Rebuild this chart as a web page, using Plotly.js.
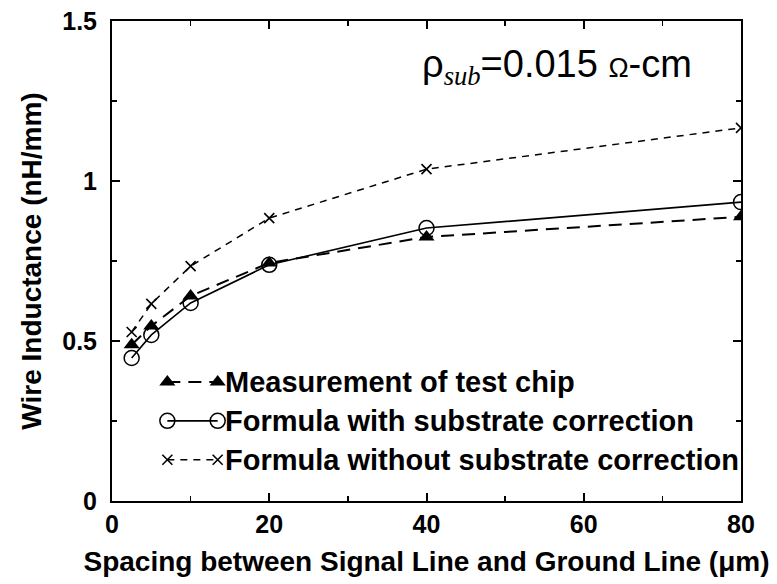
<!DOCTYPE html>
<html>
<head>
<meta charset="utf-8">
<script src="https://cdn.plot.ly/plotly-3.0.1.min.js"></script>
<style>html,body{margin:0;padding:0;background:#fff;}#chart{width:777px;height:584px;}</style>
</head>
<body>
<div id="chart"></div>
<script>
// Data
var spacing = [2.5, 5, 10, 20, 40, 80];
var measured = [0.488, 0.547, 0.641, 0.744, 0.825, 0.888];
var withCorr = [0.447, 0.519, 0.619, 0.738, 0.853, 0.934];
var withoutCorr = [0.528, 0.616, 0.734, 0.884, 1.037, 1.166];
var seriesNames = ["Measurement of test chip", "Formula with substrate correction", "Formula without substrate correction"];
var xTickVals = [0, 20, 40, 60, 80];
var yTickVals = [0, 0.5, 1, 1.5];
var yTickText = ["0", "0.5", "1", "1.5"];

var FONT = "Liberation Sans, Arial, sans-serif";

var styles = [
  {marker: {symbol: "triangle-up", size: 14, color: "#000"}, line: {color: "#000", width: 2, dash: "13px,8px"}},
  {marker: {symbol: "circle-open", size: 15, color: "#000", line: {width: 1.5, color: "#000"}}, line: {color: "#000", width: 1.6}},
  {marker: {symbol: "x-thin-open", size: 10, color: "#000", line: {width: 1.6, color: "#000"}}, line: {color: "#000", width: 1.5, dash: "7px,6px"}}
];
var seriesY = [measured, withCorr, withoutCorr];

var traces = [];
[2, 1, 0].forEach(function (i) {
  traces.push({
    x: spacing, y: seriesY[i], type: "scatter", mode: "lines+markers",
    name: seriesNames[i], showlegend: false,
    marker: styles[i].marker, line: styles[i].line, xaxis: "x", yaxis: "y"
  });
});

// Manual legend (samples with markers at both ends), on an overlay axis in [0,1]
var legX0 = 0.088, legX1 = 0.168, legTextX = 0.176;
var legY = [0.248, 0.167, 0.086];
var legendAnn = [];
for (var i = 0; i < 3; i++) {
  traces.push({
    x: [legX0, legX1], y: [legY[i], legY[i]], type: "scatter", mode: "lines+markers",
    showlegend: false, hoverinfo: "skip",
    marker: styles[i].marker, line: styles[i].line, xaxis: "x2", yaxis: "y2"
  });
  legendAnn.push({
    xref: "paper", yref: "paper", x: legTextX, y: legY[i], xanchor: "left", yanchor: "middle",
    text: "<b>" + seriesNames[i] + "</b>", showarrow: false,
    font: {family: FONT, size: 29, color: "#000"}
  });
}

var layout = {
  width: 777, height: 584,
  margin: {l: 112, r: 36, t: 21, b: 83},
  paper_bgcolor: "#fff", plot_bgcolor: "#fff",
  showlegend: false,
  font: {family: FONT, color: "#000"},
  xaxis: {
    range: [0, 80], tickvals: xTickVals, ticks: "inside", ticklen: 8, tickwidth: 2, tickcolor: "#000",
    minor: {dtick: 10, ticks: "inside", ticklen: 5, tickwidth: 1.5, tickcolor: "#000"},
    showline: true, linewidth: 2, linecolor: "#000", mirror: "ticks", showgrid: false, zeroline: false,
    ticklabelstandoff: 0,
    tickfont: {family: FONT, size: 25, color: "#000", weight: "bold"},
    title: {text: "<b>Spacing between Signal Line and Ground Line (μm)</b>", font: {family: FONT, size: 28, color: "#000"}, standoff: 14}
  },
  yaxis: {
    range: [0, 1.5], tickvals: yTickVals, ticktext: yTickText, ticks: "inside", ticklen: 8, tickwidth: 2, tickcolor: "#000",
    minor: {dtick: 0.25, ticks: "inside", ticklen: 5, tickwidth: 1.5, tickcolor: "#000"},
    showline: true, linewidth: 2, linecolor: "#000", mirror: "ticks", showgrid: false, zeroline: false,
    ticklabelstandoff: 8,
    tickfont: {family: FONT, size: 25, color: "#000", weight: "bold"},
    title: {text: "<b>Wire Inductance (nH/mm)</b>", font: {family: FONT, size: 28, color: "#000"}, standoff: 12}
  },
  xaxis2: {overlaying: "x", range: [0, 1], visible: false, fixedrange: true},
  yaxis2: {overlaying: "y", range: [0, 1], visible: false, fixedrange: true},
  annotations: legendAnn.concat([{
    xref: "paper", yref: "paper", x: 0.49, y: 0.905, xanchor: "left", yanchor: "middle", showarrow: false,
    text: "ρ<sub><span style='font-family:Liberation Serif,Times New Roman,serif;font-style:italic'>sub</span></sub>=0.015 <span style='font-size:27px'>Ω</span>-cm",
    font: {family: FONT, size: 38, color: "#000"}
  }])
};

Plotly.newPlot("chart", traces, layout, {displayModeBar: false, staticPlot: true});
</script>
</body>
</html>
